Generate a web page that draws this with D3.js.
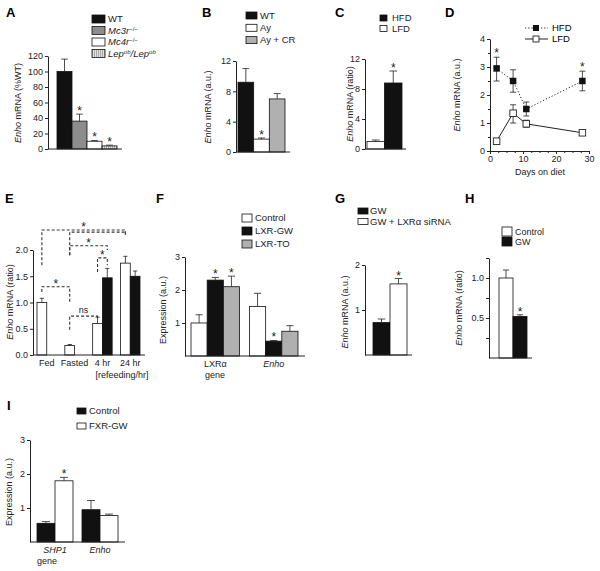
<!DOCTYPE html>
<html>
<head>
<meta charset="utf-8">
<script src="https://cdn.jsdelivr.net/npm/d3@7"></script>
<style>
  body { margin: 0; background: #fff; }
  svg { font-family: "Liberation Sans", Arial, sans-serif; }
  .tick text { font-size: 9px; fill: #222; }
  .tick line, .domain { stroke: #222; }
</style>
</head>
<body>
<div id="chart"></div>
<script>
// ---------- data ----------
// A
const aSeries = ["WT", "Mc3r", "Mc4r", "Lep"];
const aValues = [100, 36, 10, 4];
const aErrTop = [116, 45, 11, 5];
const aStars = [false, true, true, true];
const aTicks = [0, 20, 40, 60, 80, 100, 120];
// B
const bSeries = ["WT", "Ay", "Ay + CR"];
const bValues = [9.2, 1.7, 7.0];
const bErrTop = [11.0, 1.85, 7.7];
const bStars = [false, true, false];
const bTicks = [0, 4, 8, 12];
// C
const cSeries = ["LFD", "HFD"];
const cValues = [1.0, 8.8];
const cErrTop = [1.2, 10.4];
const cStars = [false, true];
const cTicks = [0, 4, 8, 12];
// D
const dDays = [2, 7, 11, 28];
const dHfd = [2.95, 2.5, 1.5, 2.5];
const dHfdLo = [2.5, 2.1, 1.25, 2.15];
const dHfdHi = [3.35, 2.9, 1.75, 2.85];
const dHfdStars = [true, false, false, true];
const dLfd = [0.35, 1.35, 0.97, 0.65];
const dLfdLo = [0.35, 1.0, 0.85, 0.65];
const dLfdHi = [0.35, 1.65, 1.1, 0.65];
const dXTicks = [0, 10, 20, 30];
const dYTicks = [0, 1, 2, 3, 4];
// E
const eGroups = ["Fed", "Fasted", "4 hr", "24 hr"];
const eWhite = [1.0, 0.18, 0.6, 1.75];
const eWhiteErr = [1.08, 0.2, 0.72, 1.88];
const eBlack = [null, null, 1.47, 1.5];
const eBlackErr = [null, null, 1.65, 1.6];
const eTicks = [0, 0.5, 1.0, 1.5, 2.0];
// brackets: [group, bar, drop-to value] ends, bracket level, label
const eBrackets = [
  { a: ["Fed", 0, 1.71], b: ["24 hr", 0, 2.29], y: 2.38, label: "*" },
  { a: ["Fasted", 0, 1.9], b: ["24 hr", 0, 2.29], y: 2.34, label: "" },
  { a: ["Fasted", 0, 1.9], b: ["4 hr", 1, 2.0], y: 2.08, label: "*" },
  { a: ["4 hr", 0, 1.58], b: ["4 hr", 1, 1.71], y: 1.85, label: "*" },
  { a: ["Fed", 0, 1.2], b: ["Fasted", 0, 1.0], y: 1.30, label: "*" },
  { a: ["Fasted", 0, 0.48], b: ["4 hr", 0, 0.69], y: 0.74, label: "ns" }
];
// F
const fGroups = ["LXRα", "Enho"];
const fControl = [1.0, 1.5];
const fControlErr = [1.25, 1.9];
const fGW = [2.3, 0.45];
const fGWErr = [2.38, 0.47];
const fGWStars = [true, true];
const fTO = [2.1, 0.75];
const fTOErr = [2.42, 0.92];
const fTOStars = [true, false];
const fTicks = [1, 2, 3];
// G
const gSeries = ["GW", "GW + LXRα siRNA"];
const gValues = [0.72, 1.58];
const gErrTop = [0.8, 1.7];
const gStars = [false, true];
const gTicks = [1, 2];
// H
const hSeries = ["Control", "GW"];
const hValues = [1.0, 0.52];
const hErrTop = [1.1, 0.54];
const hStars = [false, true];
const hTicks = [0.5, 1.0];
const hMinor = [0.25, 0.75, 1.25];
// I
const iGroups = ["SHP1", "Enho"];
const iControl = [0.55, 0.95];
const iControlErr = [0.6, 1.22];
const iFxr = [1.8, 0.78];
const iFxrErr = [1.9, 0.82];
const iFxrStars = [true, false];
const iTicks = [1, 2, 3];

// ---------- drawing ----------
const W = 600, H = 571;
const BLACK = "#111", LGREY = "#b0b0b0", WHITE = "#fff";

const svg = d3.select("#chart").append("svg")
  .attr("width", W).attr("height", H)
  .style("background", "#fff");

const defs = svg.append("defs");
const pat = defs.append("pattern").attr("id", "hatch")
  .attr("width", 2).attr("height", 4).attr("patternUnits", "userSpaceOnUse");
pat.append("rect").attr("width", 2).attr("height", 4).attr("fill", "#e2e2e2");
pat.append("line").attr("x1", 0.5).attr("x2", 0.5).attr("y1", 0).attr("y2", 4)
  .attr("stroke", "#9a9a9a").attr("stroke-width", 0.8);

function panelLabel(t, x, y) {
  svg.append("text").attr("x", x).attr("y", y).text(t)
    .attr("font-size", 13).attr("font-weight", "bold");
}

function yAxis(y, x, ticks, fmt) {
  const g = svg.append("g").attr("transform", `translate(${x},0)`)
    .call(d3.axisLeft(y).tickValues(ticks).tickFormat(fmt || d3.format("d"))
      .tickSize(3).tickSizeOuter(0).tickPadding(2));
  g.selectAll(".tick text").attr("font-size", 9);
  return g;
}

// rotated label, italic "Enho" part optional
function yLabel(x, ymid, italic, rest) {
  const t = svg.append("text")
    .attr("transform", `translate(${x},${ymid}) rotate(-90)`)
    .attr("text-anchor", "middle").attr("font-size", 9).attr("fill", "#222");
  if (italic) t.append("tspan").attr("font-style", "italic").text(italic);
  t.append("tspan").text(rest);
}

function star(x, y, label) {
  svg.append("text").attr("x", x).attr("y", y).attr("text-anchor", "middle")
    .attr("font-size", label === "ns" ? 9 : 12).attr("fill", "#222").text(label);
}

// grouped bar panel
function barPanel(cfg) {
  const y = d3.scaleLinear().domain(cfg.domain).range([cfg.base, cfg.top]);
  const x0 = d3.scaleBand().domain(cfg.groups).range(cfg.xr).paddingInner(cfg.pi || 0);
  const x1 = d3.scaleBand().domain(d3.range(cfg.series.length)).range([0, x0.bandwidth()]);
  const g = svg.append("g");
  cfg.series.forEach((s, si) => {
    cfg.groups.forEach((grp, gi) => {
      const v = s.values[gi];
      if (v == null) return;
      const bx = x0(grp) + x1(si), bw = x1.bandwidth(), cx = bx + bw / 2;
      g.append("rect").attr("x", bx).attr("y", y(v)).attr("width", bw)
        .attr("height", y(0) - y(v)).attr("fill", s.fill)
        .attr("stroke", "#111").attr("stroke-width", 0.8);
      const e = s.errs[gi];
      if (e != null && e > v) {
        g.append("line").attr("x1", cx).attr("x2", cx).attr("y1", y(v)).attr("y2", y(e))
          .attr("stroke", "#222").attr("stroke-width", 0.8);
        g.append("line").attr("x1", cx - bw * 0.22).attr("x2", cx + bw * 0.22)
          .attr("y1", y(e)).attr("y2", y(e)).attr("stroke", "#222").attr("stroke-width", 0.8);
      }
      if (s.stars && s.stars[gi]) star(cx, y(e != null ? e : v) + 1, "*");
    });
  });
  // x axis line
  svg.append("line").attr("x1", cfg.ax).attr("x2", cfg.xEnd).attr("y1", y(0)).attr("y2", y(0))
    .attr("stroke", "#222").attr("stroke-width", 1);
  yAxis(y, cfg.ax, cfg.ticks, cfg.fmt);
  if (cfg.xLabels) {
    const xa = svg.append("g").attr("transform", `translate(0,${y(0)})`)
      .call(d3.axisBottom(x0).tickSize(0).tickPadding(5));
    xa.select(".domain").remove();
    xa.selectAll(".tick text").attr("font-size", 9)
      .attr("font-style", d => cfg.italicX && cfg.italicX.includes(d) ? "italic" : null);
  }
  return { x0, x1, y };
}

function legend(x, y, w, h, dy, tx, items, fs) {
  items.forEach((it, i) => {
    svg.append("rect").attr("x", x).attr("y", y + i * dy).attr("width", w).attr("height", h)
      .attr("fill", it.fill).attr("stroke", "#111").attr("stroke-width", 0.8);
    const t = svg.append("text").attr("x", tx).attr("y", y + i * dy + h / 2)
      .attr("dy", "0.35em").attr("font-size", fs || 9.5).attr("fill", "#222");
    it.parts.forEach(p => {
      const sp = t.append("tspan").text(p.t);
      if (p.i) sp.attr("font-style", "italic");
      if (p.sup) sp.attr("font-size", 6).attr("baseline-shift", "super");
    });
  });
}

// ----- Panel A -----
panelLabel("A", 6, 17);
legend(92, 15, 13, 8, 11.5, 108, [
  { fill: BLACK, parts: [{ t: "WT" }] },
  { fill: "#8c8c8c", parts: [{ t: "Mc3r", i: 1 }, { t: "−/−", sup: 1 }] },
  { fill: WHITE, parts: [{ t: "Mc4r", i: 1 }, { t: "−/−", sup: 1 }] },
  { fill: "url(#hatch)", parts: [{ t: "Lep", i: 1 }, { t: "ob", sup: 1, i: 1 }, { t: "/Lep", i: 1 }, { t: "ob", sup: 1, i: 1 }] }
]);
barPanel({
  groups: ["A"], xr: [57, 117], domain: [0, 120], base: 149, top: 56, ax: 48, xEnd: 122,
  ticks: aTicks,
  series: aSeries.map((s, i) => ({
    values: [aValues[i]], errs: [aErrTop[i]], stars: [aStars[i]],
    fill: [BLACK, "#8c8c8c", WHITE, "url(#hatch)"][i]
  }))
});
yLabel(21, 103, "Enho", " mRNA (%WT)");

// ----- Panel B -----
panelLabel("B", 202, 17);
legend(246, 12, 11, 7, 12.3, 260, bSeries.map((s, i) => ({ fill: [BLACK, WHITE, LGREY][i], parts: [{ t: s }] })));
barPanel({
  groups: ["B"], xr: [238, 285], domain: [0, 12], base: 152, top: 61, ax: 236, xEnd: 290,
  ticks: bTicks,
  series: bSeries.map((s, i) => ({
    values: [bValues[i]], errs: [bErrTop[i]], stars: [bStars[i]], fill: [BLACK, WHITE, LGREY][i]
  }))
});
yLabel(211, 107, "Enho", " mRNA (a.u.)");

// ----- Panel C -----
panelLabel("C", 335, 17);
legend(380, 15, 7, 6, 10.5, 392, [
  { fill: BLACK, parts: [{ t: "HFD" }] },
  { fill: WHITE, parts: [{ t: "LFD" }] }
]);
barPanel({
  groups: ["C"], xr: [367, 402], domain: [0, 12], base: 149, top: 59, ax: 365, xEnd: 406,
  ticks: cTicks,
  series: cSeries.map((s, i) => ({
    values: [cValues[i]], errs: [cErrTop[i]], stars: [cStars[i]], fill: [WHITE, BLACK][i]
  }))
});
yLabel(353, 104, "Enho", " mRNA (ratio)");

// ----- Panel D -----
panelLabel("D", 445, 17);
{
  const x = d3.scaleLinear().domain([0, 30]).range([490, 589]);
  const y = d3.scaleLinear().domain([0, 4]).range([151, 39]);
  const xa = svg.append("g").attr("transform", "translate(0,151)")
    .call(d3.axisBottom(x).tickValues(dXTicks).tickSize(3).tickSizeOuter(0).tickPadding(2));
  xa.selectAll(".tick text").attr("font-size", 9);
  svg.append("g").attr("transform", "translate(0,151)")
    .call(d3.axisBottom(x).tickValues(d3.range(2.5, 30, 2.5).filter(v => v % 10)).tickSize(2).tickFormat(""))
    .select(".domain").remove();
  yAxis(y, 490, dYTicks);
  svg.append("g").attr("transform", "translate(490,0)")
    .call(d3.axisLeft(y).tickValues([0.5, 1.5, 2.5, 3.5]).tickSize(2).tickFormat(""))
    .select(".domain").remove();

  const line = d3.line().x((d, i) => x(dDays[i])).y(d => y(d));
  svg.append("path").datum(dHfd).attr("d", line).attr("fill", "none")
    .attr("stroke", "#222").attr("stroke-width", 1).attr("stroke-dasharray", "1.2,2");
  svg.append("path").datum(dLfd).attr("d", line).attr("fill", "none")
    .attr("stroke", "#222").attr("stroke-width", 1);

  function errs(lo, hi) {
    dDays.forEach((d, i) => {
      if (hi[i] === lo[i]) return;
      const cx = x(d);
      svg.append("line").attr("x1", cx).attr("x2", cx).attr("y1", y(lo[i])).attr("y2", y(hi[i]))
        .attr("stroke", "#222").attr("stroke-width", 0.8);
      [lo[i], hi[i]].forEach(v => svg.append("line").attr("x1", cx - 3).attr("x2", cx + 3)
        .attr("y1", y(v)).attr("y2", y(v)).attr("stroke", "#222").attr("stroke-width", 0.8));
    });
  }
  errs(dHfdLo, dHfdHi);
  errs(dLfdLo, dLfdHi);
  const s = 6.5;
  svg.selectAll(null).data(dLfd).enter().append("rect")
    .attr("x", (d, i) => x(dDays[i]) - s / 2).attr("y", d => y(d) - s / 2)
    .attr("width", s).attr("height", s).attr("fill", WHITE).attr("stroke", "#222").attr("stroke-width", 0.9);
  svg.selectAll(null).data(dHfd).enter().append("rect")
    .attr("x", (d, i) => x(dDays[i]) - s / 2).attr("y", d => y(d) - s / 2)
    .attr("width", s).attr("height", s).attr("fill", BLACK);
  dHfdStars.forEach((st, i) => { if (st) star(x(dDays[i]), y(dHfdHi[i]), "*"); });

  svg.append("text").attr("x", 540).attr("y", 175).attr("text-anchor", "middle")
    .attr("font-size", 9).attr("fill", "#222").text("Days on diet");
  yLabel(460, 95, "Enho", " mRNA (a.u.)");

  // legend
  svg.append("line").attr("x1", 525).attr("x2", 548).attr("y1", 28).attr("y2", 28)
    .attr("stroke", "#222").attr("stroke-dasharray", "1.2,2");
  svg.append("rect").attr("x", 533).attr("y", 25).attr("width", 6).attr("height", 6).attr("fill", BLACK);
  svg.append("line").attr("x1", 525).attr("x2", 548).attr("y1", 39).attr("y2", 39).attr("stroke", "#222");
  svg.append("rect").attr("x", 533).attr("y", 36).attr("width", 6).attr("height", 6)
    .attr("fill", WHITE).attr("stroke", "#222").attr("stroke-width", 0.9);
  svg.append("text").attr("x", 552).attr("y", 28).attr("dy", "0.35em").attr("font-size", 9.5).text("HFD");
  svg.append("text").attr("x", 552).attr("y", 39).attr("dy", "0.35em").attr("font-size", 9.5).text("LFD");
}

// ----- Panel E -----
panelLabel("E", 5, 203);
{
  const p = barPanel({
    groups: eGroups, xr: [37, 140], pi: 0.3, domain: [0, 2], base: 355, top: 250, ax: 33, xEnd: 145,
    ticks: eTicks, fmt: d3.format(".1f"), xLabels: true,
    series: [
      { values: eWhite, errs: eWhiteErr, fill: WHITE },
      { values: eBlack, errs: eBlackErr, fill: BLACK }
    ]
  });
  svg.append("text").attr("x", 122).attr("y", 378).attr("text-anchor", "middle")
    .attr("font-size", 9).attr("fill", "#222").text("[refeeding/hr]");
  const cx = (g, b) => p.x0(g) + p.x1(b) + p.x1.bandwidth() / 2;
  eBrackets.forEach(br => {
    const xa = cx(br.a[0], br.a[1]), xb = cx(br.b[0], br.b[1]), yy = p.y(br.y);
    svg.append("path")
      .attr("d", `M${xa},${p.y(br.a[2])}V${yy}H${xb}V${p.y(br.b[2])}`)
      .attr("fill", "none").attr("stroke", "#333").attr("stroke-width", 1.1)
      .attr("stroke-dasharray", "3,2");
    if (br.label) star((xa + xb) / 2, br.label === "ns" ? yy - 3 : yy + 1, br.label);
  });
  yLabel(13, 302, "Enho", " mRNA (ratio)");
}

// ----- Panel F -----
panelLabel("F", 156, 203);
legend(242, 214, 10, 8, 13, 255, [
  { fill: WHITE, parts: [{ t: "Control" }] },
  { fill: BLACK, parts: [{ t: "LXR-GW" }] },
  { fill: LGREY, parts: [{ t: "LXR-TO" }] }
]);
barPanel({
  groups: fGroups, xr: [191, 298], pi: 0.17, domain: [0, 3], base: 356, top: 257, ax: 185, xEnd: 305,
  ticks: fTicks, xLabels: true, italicX: ["Enho"],
  series: [
    { values: fControl, errs: fControlErr, fill: WHITE },
    { values: fGW, errs: fGWErr, stars: fGWStars, fill: BLACK },
    { values: fTO, errs: fTOErr, stars: fTOStars, fill: LGREY }
  ]
});
svg.append("text").attr("x", 215).attr("y", 378).attr("text-anchor", "middle")
  .attr("font-size", 9).attr("fill", "#222").text("gene");
yLabel(166, 310, "", "Expression  (a.u.)");

// ----- Panel G -----
panelLabel("G", 335, 203);
legend(358, 208, 10, 6, 10.5, 370, [
  { fill: BLACK, parts: [{ t: "GW" }] },
  { fill: WHITE, parts: [{ t: "GW + LXRα siRNA" }] }
]);
barPanel({
  groups: ["G"], xr: [373, 407], domain: [0, 2], base: 355, top: 265, ax: 365, xEnd: 412,
  ticks: gTicks,
  series: gSeries.map((s, i) => ({
    values: [gValues[i]], errs: [gErrTop[i]], stars: [gStars[i]], fill: [BLACK, WHITE][i]
  }))
});
yLabel(348, 312, "Enho", " mRNA (a.u.)");

// ----- Panel H -----
panelLabel("H", 465, 203);
legend(502, 227, 10, 9, 10, 515, [
  { fill: WHITE, parts: [{ t: "Control" }] },
  { fill: BLACK, parts: [{ t: "GW" }] }
], 9);
{
  const p = barPanel({
    groups: ["H"], xr: [499, 527], domain: [0, 1.25], base: 358, top: 258, ax: 489, xEnd: 532,
    ticks: hTicks, fmt: d3.format(".1f"),
    series: hSeries.map((s, i) => ({
      values: [hValues[i]], errs: [hErrTop[i]], stars: [hStars[i]], fill: [WHITE, BLACK][i]
    }))
  });
  svg.append("g").attr("transform", "translate(489,0)")
    .call(d3.axisLeft(p.y).tickValues(hMinor).tickSize(3).tickFormat(""))
    .select(".domain").remove();
}
yLabel(462, 308, "Enho", " mRNA (ratio)");

// ----- Panel I -----
panelLabel("I", 7, 410);
legend(77, 408, 9, 6, 15, 89, [
  { fill: BLACK, parts: [{ t: "Control" }] },
  { fill: WHITE, parts: [{ t: "FXR-GW" }] }
]);
barPanel({
  groups: iGroups, xr: [37, 118], pi: 0.2, domain: [0, 3], base: 542, top: 440, ax: 30, xEnd: 125,
  ticks: iTicks, xLabels: true, italicX: ["SHP1", "Enho"],
  series: [
    { values: iControl, errs: iControlErr, fill: BLACK },
    { values: iFxr, errs: iFxrErr, stars: iFxrStars, fill: WHITE }
  ]
});
svg.append("text").attr("x", 47).attr("y", 564).attr("text-anchor", "middle")
  .attr("font-size", 9).attr("fill", "#222").text("gene");
yLabel(12, 492, "", "Expression  (a.u.)");
</script>
</body>
</html>
